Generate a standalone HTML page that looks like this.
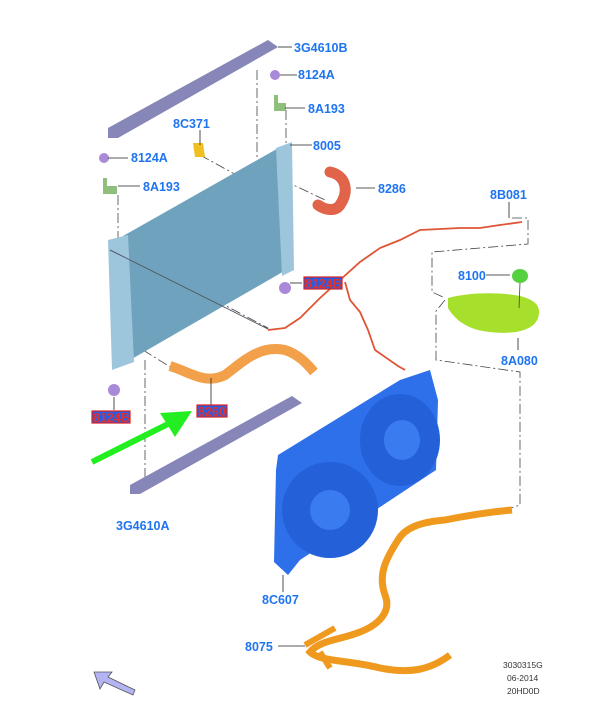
<!DOCTYPE html>
<html><head><meta charset="utf-8"><style>
html,body{margin:0;padding:0;background:#fff;}
svg{display:block}
.l{font-family:"Liberation Sans",Arial,sans-serif;font-size:12.5px;fill:#1f74f0;font-weight:bold}
.s{font-family:"Liberation Sans",Arial,sans-serif;font-size:8.5px;fill:#333}
</style></head><body>
<svg width="600" height="701" viewBox="0 0 600 701" xmlns="http://www.w3.org/2000/svg">
<g stroke="#444" stroke-width="0.8" fill="none" stroke-dasharray="10,3,2,3">
<line x1="257" y1="70" x2="257" y2="160"/>
<line x1="286" y1="110" x2="286" y2="145"/>
<line x1="118" y1="195" x2="118" y2="240"/>
<line x1="200" y1="155" x2="282" y2="200"/>
<line x1="120" y1="250" x2="268" y2="328"/>
<line x1="143" y1="350" x2="175" y2="370"/>
<line x1="145" y1="360" x2="145" y2="490"/>
<line x1="283" y1="180" x2="325" y2="200"/>
<polyline points="512,218 528,218 528,244 432,252 432,292 445,298"/>
<polyline points="445,300 436,311 436,360 520,372 520,505 505,510"/>
</g>
<polygon points="108,128 268,40 278,47 118,138 108,138" fill="#8686b8"/>
<polygon points="130,485 292,396 302,403 140,494 130,494" fill="#8686b8"/>
<polygon points="123,236 282,146 286,270 130,360" fill="#6fa2bd"/>
<polygon points="108,240 128,235 134,362 112,370" fill="#9dc6dd"/>
<polygon points="276,148 292,142 294,270 282,276" fill="#9dc6dd"/>
<line x1="110" y1="250" x2="270" y2="330" stroke="#556" stroke-width="1"/>
<circle cx="275" cy="75" r="5" fill="#a98ad8"/>
<path d="M274,95 h4 v8 h8 v8 h-12z" fill="#8fbf7c"/>
<circle cx="104" cy="158" r="5" fill="#a98ad8"/>
<path d="M103,178 h4 v8 h10 v8 h-14z" fill="#8fbf7c"/>
<path d="M193,143 h10 l2,14 h-10z" fill="#f0c020"/>
<circle cx="285" cy="288" r="6" fill="#a98ad8"/>
<circle cx="114" cy="390" r="6" fill="#a98ad8"/>
<path d="M330,172 C345,175 350,190 340,205 C335,212 325,210 318,205" stroke="#e0634a" stroke-width="11" fill="none" stroke-linecap="round"/>
<path d="M170,366 C190,372 205,385 225,375 C245,360 260,345 285,350 C300,355 308,365 314,372" stroke="#f2a14a" stroke-width="10" fill="none"/>
<path d="M522,222 L500,225 L480,228 L460,228 L420,230 L400,240 L380,248 L360,262 L340,280 L320,298 L300,318 L285,328 L268,330" stroke="#e05535" stroke-width="1.8" fill="none"/>
<path d="M345,282 L350,300 L360,312 L368,330 L375,350 L398,366 L405,370" stroke="#e05535" stroke-width="1.8" fill="none"/>
<path d="M448,298 C470,292 500,292 520,296 C535,300 542,306 538,318 C534,330 515,335 490,332 C468,330 455,320 448,308z" fill="#a6df2c"/>
<ellipse cx="520" cy="276" rx="8" ry="7" fill="#55d040"/>
<line x1="520" y1="283" x2="519" y2="308" stroke="#444" stroke-width="0.8"/>
<polygon points="278,455 400,380 430,370 438,400 436,470 300,560 288,575 274,562 276,470" fill="#2e70ea"/>
<ellipse cx="330" cy="510" rx="48" ry="48" fill="#2460d8"/>
<ellipse cx="400" cy="440" rx="40" ry="46" fill="#2460d8"/>
<ellipse cx="330" cy="510" rx="20" ry="20" fill="#3a7cf0"/>
<ellipse cx="402" cy="440" rx="18" ry="20" fill="#3a7cf0"/>
<path d="M512,510 C490,512 470,515 445,520 C420,522 405,528 398,540 C385,560 378,575 385,595 C392,612 378,625 360,632 C340,640 320,640 310,652 C320,662 350,660 380,668 C410,674 430,670 450,655" stroke="#ef9a1e" stroke-width="7" fill="none"/>
<path d="M305,645 L335,628 M320,652 L330,668" stroke="#ef9a1e" stroke-width="6"/>
<g stroke="#222" stroke-width="0.8">
<line x1="278" y1="47" x2="292" y2="47"/>
<line x1="280" y1="75" x2="297" y2="75"/>
<line x1="285" y1="108" x2="305" y2="108"/>
<line x1="200" y1="130" x2="200" y2="145"/>
<line x1="290" y1="145" x2="312" y2="145"/>
<line x1="108" y1="158" x2="128" y2="158"/>
<line x1="118" y1="186" x2="140" y2="186"/>
<line x1="356" y1="188" x2="375" y2="188"/>
<line x1="509" y1="202" x2="509" y2="218"/>
<line x1="486" y1="275" x2="510" y2="275"/>
<line x1="518" y1="338" x2="518" y2="350"/>
<line x1="290" y1="283" x2="302" y2="283"/>
<line x1="114" y1="397" x2="114" y2="410"/>
<line x1="211" y1="378" x2="211" y2="405"/>
<line x1="283" y1="575" x2="283" y2="592"/>
<line x1="278" y1="646" x2="305" y2="646"/>
</g>
<text class="l" x="294" y="52">3G4610B</text>
<text class="l" x="298" y="79">8124A</text>
<text class="l" x="308" y="113">8A193</text>
<text class="l" x="173" y="128">8C371</text>
<text class="l" x="313" y="150">8005</text>
<text class="l" x="131" y="162">8124A</text>
<text class="l" x="143" y="191">8A193</text>
<text class="l" x="378" y="193">8286</text>
<text class="l" x="490" y="199">8B081</text>
<text class="l" x="458" y="280">8100</text>
<text class="l" x="501" y="365">8A080</text>
<text class="l" x="116" y="530">3G4610A</text>
<text class="l" x="262" y="604">8C607</text>
<text class="l" x="245" y="651">8075</text>
<rect x="304" y="277" width="38" height="12" fill="#2a5ce0" stroke="#e02020" stroke-width="1.2"/>
<text class="l" x="305" y="288" style="fill:#e03030">8124B</text>
<rect x="92" y="411" width="38" height="12" fill="#2a5ce0" stroke="#e02020" stroke-width="1.2"/>
<text class="l" x="93" y="422" style="fill:#e03030">8124B</text>
<rect x="197" y="405" width="30" height="12" fill="#2a5ce0" stroke="#e02020" stroke-width="1.2"/>
<text class="l" x="198" y="416" style="fill:#e03030">8260</text>
<line x1="92" y1="462" x2="172" y2="422" stroke="#22ee22" stroke-width="6"/>
<polygon points="192,411 160,413 175,437" fill="#22ee22"/>
<polygon points="94,672 112,672 108,677 135,690 133,695 104,682 100,689" fill="#b4b4f4" stroke="#555" stroke-width="0.8"/>
<text class="s" x="503" y="668">3030315G</text>
<text class="s" x="507" y="681">06-2014</text>
<text class="s" x="507" y="694">20HD0D</text>
</svg>
</body></html>
